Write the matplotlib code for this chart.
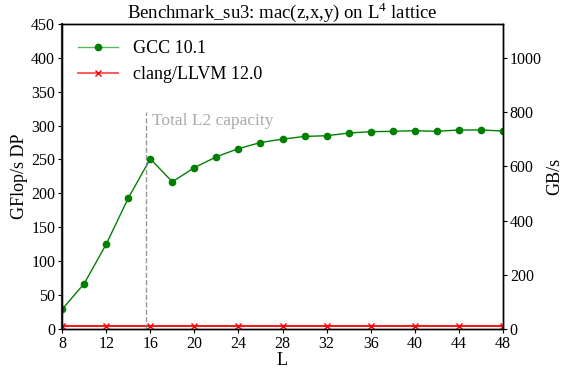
import matplotlib
matplotlib.use("Agg")
import matplotlib.pyplot as plt

# L values and measured throughput
L_gcc = [8, 10, 12, 14, 16, 18, 20, 22, 24, 26, 28, 30, 32, 34, 36, 38, 40, 42, 44, 46, 48]
gflops_gcc = [29, 67, 125, 193, 251, 217, 238, 254, 266, 275, 280, 284, 285, 289, 291,
              291.5, 292.5, 291.5, 293.5, 293.5, 292]

L_clang = [8, 12, 16, 20, 24, 28, 32, 36, 40, 44, 48]
gflops_clang = [4, 4, 4, 4, 4, 4, 4, 4, 4, 4, 4]

l2_capacity_L = 15.6
x_ticks = [8, 12, 16, 20, 24, 28, 32, 36, 40, 44, 48]
y_ticks = [0, 50, 100, 150, 200, 250, 300, 350, 400, 450]
y2_ticks = [0, 200, 400, 600, 800, 1000]

plt.rcParams["font.family"] = ["Liberation Serif", "DejaVu Serif"]
plt.rcParams["mathtext.fontset"] = "custom"
plt.rcParams["mathtext.rm"] = "Liberation Serif"
plt.rcParams["font.size"] = 11.5

fig, ax = plt.subplots(figsize=(5.65, 3.73), dpi=100)
fig.subplots_adjust(left=0.11, right=0.89, top=0.936, bottom=0.118)

ax.plot(L_gcc, gflops_gcc, color="green", marker="o", markersize=4.5, linewidth=1.0,
        label="GCC 10.1")
ax.plot(L_clang, gflops_clang, color="red", marker="x", markersize=4, linewidth=1.3,
        label="clang/LLVM 12.0")

ax.axvline(l2_capacity_L, ymin=0, ymax=320 / 450, color="gray", linestyle="--",
           linewidth=1.0, alpha=0.8)
ax.text(l2_capacity_L + 0.55, 307, "Total L2 capacity", color="darkgray", va="center",
        fontsize=12.5)

ax.set_xlim(8, 48)
ax.set_ylim(0, 450)
ax.set_xticks(x_ticks)
ax.set_yticks(y_ticks)
ax.set_xlabel("L", fontsize=13, labelpad=0)
ax.set_ylabel("GFlop/s DP", fontsize=13, labelpad=2)
ax.set_title("Benchmark_su3: mac(z,x,y) on L$^4$ lattice", fontsize=13.5, pad=2)
leg = ax.legend(loc="upper left", frameon=False, fontsize=13, handlelength=2.2)
for h, c in zip(leg.get_lines(), ["#5cb85c", "#ff5050"]):
    h.set_color(c)
    h.set_markeredgecolor("green" if c == "#5cb85c" else "red")
    h.set_markerfacecolor("green" if c == "#5cb85c" else "red")

ax2 = ax.twinx()
ax2.set_ylim(0, 1125)
ax2.set_yticks(y2_ticks)
ax2.set_ylabel("GB/s", fontsize=13, labelpad=3)

for a in (ax, ax2):
    for s in a.spines.values():
        s.set_linewidth(1.0)
    a.tick_params(length=3, width=0.8, pad=2)
ax.spines["left"].set_linewidth(1.6)
ax.spines["left"].set_color("#333333")

fig.savefig("out.png", dpi=100)
